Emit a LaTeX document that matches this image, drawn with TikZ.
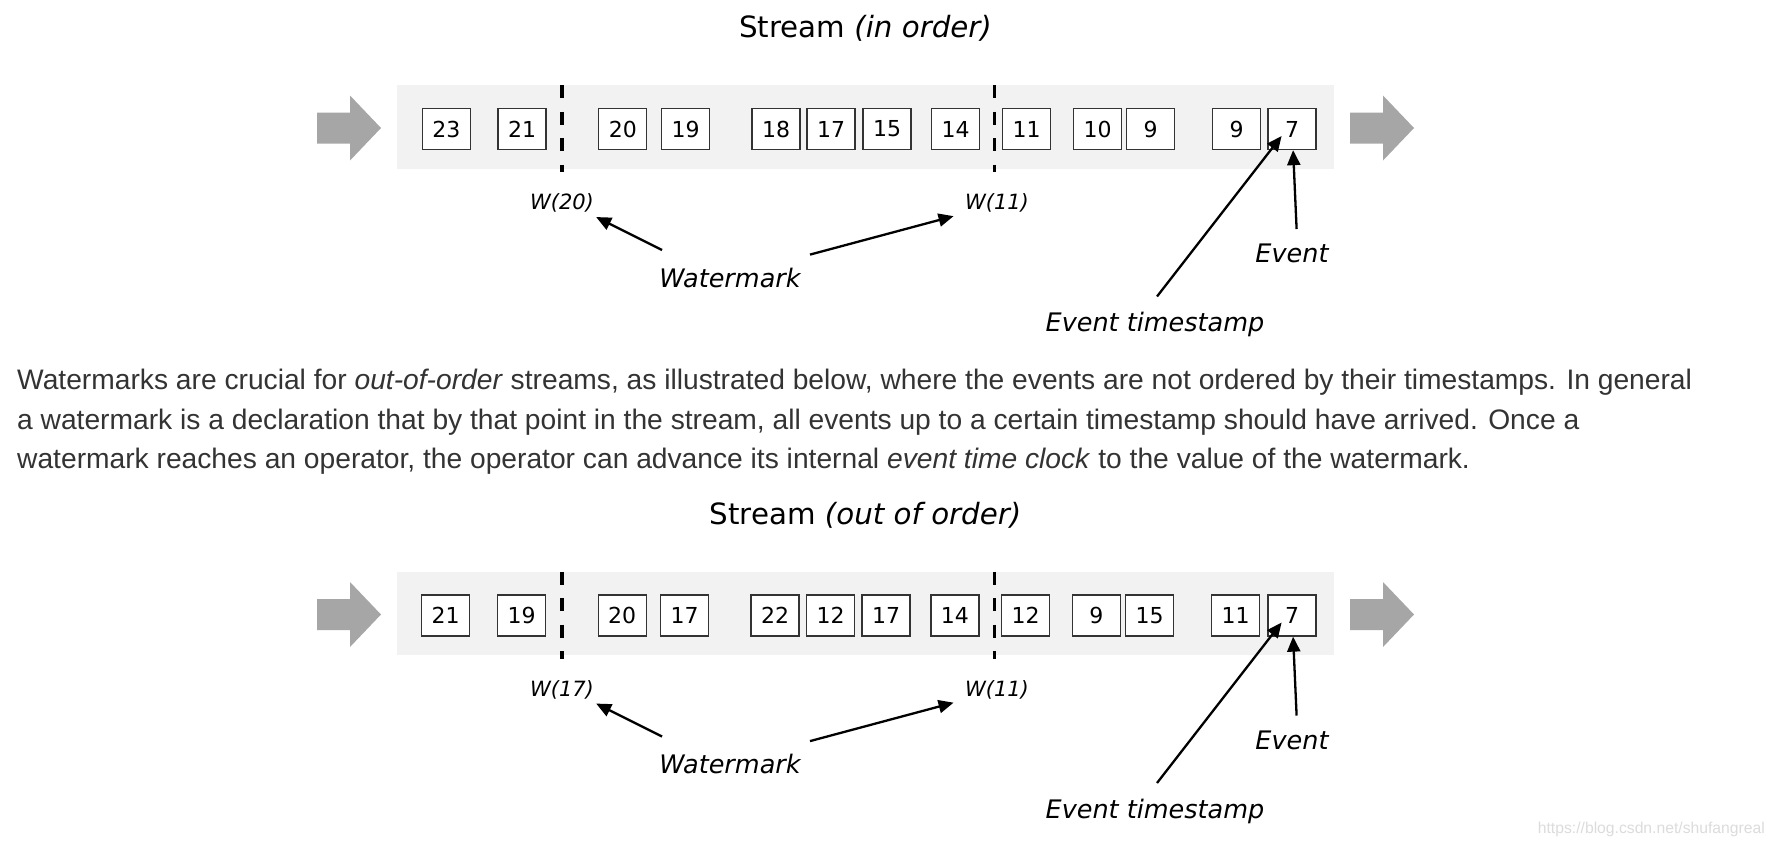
\documentclass[tikz,border=0pt]{standalone}
\usepackage{fontspec}
\setmainfont{DejaVu Sans}
\newfontfamily\parafont{Liberation Sans}
\usetikzlibrary{arrows.meta,calc}
\definecolor{bandgray}{HTML}{F2F2F2}
\definecolor{arrowgray}{HTML}{A6A6A6}
\definecolor{paragray}{HTML}{333333}
\definecolor{credgray}{HTML}{DCDCDC}
\tikzset{
  evbox/.style={draw=black!80, fill=white, line width=1.3pt, minimum width=48pt, minimum height=41pt, inner sep=0pt, font=\fontsize{22}{26}\selectfont},
  band/.style={fill=bandgray, minimum width=937pt, minimum height=83.5pt, inner sep=0pt},
  flow/.style={fill=arrowgray},
  wmline/.style={line width=3.8pt, dash pattern=on 13pt off 13.5pt},
  arr/.style={line width=2.3pt, -{Triangle[length=15pt,width=13pt]}},
  stitle/.style={font=\fontsize{29.3}{34}\selectfont, inner sep=0pt, anchor=base},
  wlab/.style={font=\fontsize{21}{25}\selectfont\itshape, inner sep=0pt},
  lab/.style={font=\fontsize{25.5}{30}\selectfont\itshape, inner sep=0pt},
  para/.style={font=\parafont\fontsize{28.2}{33}\selectfont, text=paragray, inner sep=0pt, anchor=base west},
}
\newcommand\mystream[5]{%
\begin{scope}[yshift=#2]
  \node[stitle] (#1title) at (865.5,37.5) {Stream \textit{(#3)}};
  \node[band] (#1band) at (865.5,126.8) {};
  \fill[flow] (317,112.5) -- (350,112.5) -- (350,95.5) -- (381,128) -- (350,160.5) -- (350,143.5) -- (317,143.5) -- cycle;
  \fill[flow] (1350,112.5) -- (1383,112.5) -- (1383,95.5) -- (1414,128) -- (1383,160.5) -- (1383,143.5) -- (1350,143.5) -- cycle;
  \foreach \x/\n [count=\i] in {#4} {\node[evbox] (#1b\i) at (\x,129) {\n};}
  \coordinate (#1da) at (562.3,85);
  \coordinate (#1db) at (562.3,172);
  \coordinate (#1dc) at (994.5,85);
  \coordinate (#1dd) at (994.5,172);
  \draw[wmline] (#1da) -- (#1db);
  \draw[wmline] (#1dc) -- (#1dd);
  \node[wlab] (#1wl) at (562,203) {W(#5)};
  \node[wlab] (#1wr) at (997,203) {W(11)};
  \node[lab] (#1wm) at (730,277.5) {Watermark};
  \node[lab] (#1ev) at (1292,253.5) {Event};
  \node[lab] (#1ets) at (1155,324.5) {Event timestamp};
  \coordinate (#1wms1) at (662,250);
  \coordinate (#1wms2) at (810,254.6);
  \coordinate (#1evs) at (1296.6,229);
  \coordinate (#1etss) at (1157,296.5);
  \draw[arr] (#1wms1) -- ($(#1wl.south east)+(2,4.5)$);
  \draw[arr] (#1wms2) -- ($(#1wr.south west)+(-11.3,3.6)$);
  \draw[arr] (#1evs) -- ([xshift=1pt]#1b13.south);
  \draw[arr] (#1etss) -- ($(#1b13.center)+(-10.5,7)$);
\end{scope}}
\begin{document}
\begin{tikzpicture}[x=1pt,y=-1pt]
\useasboundingbox (0,0) rectangle (1774,846);
\fill[white] (0,0) rectangle (1774,846);
\mystream{t}{0pt}{in order}{446.3/23,522.1/21,622.8/20,685.6/19,776.1/18,831.0/17,887.0/15,955.5/14,1026.7/11,1097.5/10,1150.6/9,1236.6/9,1292.1/7}{20}
\node[para] (p1) at (17,389.3) {Watermarks are crucial for \textit{out-of-order} streams, as illustrated below, where the events are not ordered by their timestamps. In general};
\node[para] (p2) at (17,429) {a watermark is a declaration that by that point in the stream, all events up to a certain timestamp should have arrived. Once a};
\node[para] (p3) at (17,468.7) {watermark reaches an operator, the operator can advance its internal \textit{event time clock} to the value of the watermark.};
\mystream{s}{-486.5pt}{out of order}{445.7/21,521.6/19,622.2/20,684.5/17,775.0/22,830.5/12,886.0/17,954.9/14,1025.6/12,1096.3/9,1149.5/15,1235.5/11,1292.1/7}{17}
\node[font=\parafont\fontsize{15.7}{18}\selectfont, text=credgray, anchor=base east, inner sep=0pt] (credit) at (1765,833) {https://blog.csdn.net/shufangreal};
\end{tikzpicture}
\end{document}
